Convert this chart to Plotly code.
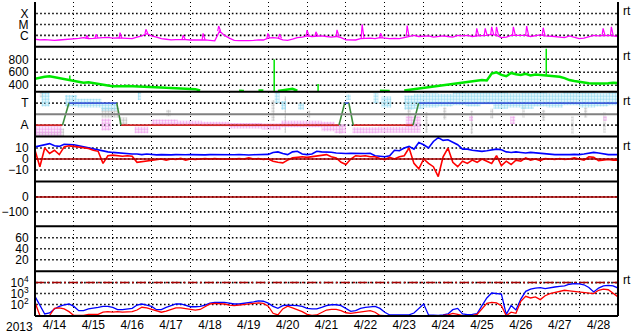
import plotly.graph_objects as go
from plotly.subplots import make_subplots
from datetime import datetime, timedelta

# ---------------- data ----------------
start = datetime(2013, 4, 14)
end = datetime(2013, 4, 29)
step_hours = 3
day_labels = ["4/14", "4/15", "4/16", "4/17", "4/18", "4/19", "4/20", "4/21",
              "4/22", "4/23", "4/24", "4/25", "4/26", "4/27", "4/28"]

# GOES X-ray flux, log10(W/m^2), 3-hourly background
xray_base = [
    -6.35, -6.40, -6.38, -6.42, -6.45, -6.42, -6.40, -6.38, -6.35, -6.28,
    -6.20, -6.30, -6.28, -6.22, -6.20, -6.18, -6.25, -6.22, -6.25, -6.28,
    -6.30, -6.15, -6.05, -5.85, -6.05, -6.15, -6.30, -6.35, -6.40, -6.38,
    -6.35, -6.38, -6.42, -6.45, -6.42, -6.40, -6.48, -6.50, -5.60, -6.00,
    -6.25, -6.45, -6.48, -6.50, -6.48, -6.45, -6.40, -6.42, -6.25, -6.20,
    -6.25, -6.40, -6.45, -6.35, -6.20, -6.15, -6.05, -6.10, -6.05, -6.05,
    -6.10, -6.15, -6.10, -6.20, -6.40, -6.38, -6.42, -6.30, -6.25, -6.25,
    -6.30, -6.20, -6.25, -6.30, -6.28, -6.30, -6.20, -6.10, -6.00, -6.10,
    -6.05, -6.05, -6.15, -6.10, -6.05, -6.10, -6.15, -6.00, -6.05, -6.00,
    -6.10, -6.05, -6.05, -6.00, -5.90, -6.00, -6.20, -6.15, -6.00, -6.00,
    -6.05, -6.00, -6.10, -6.00, -5.95, -6.05, -6.05, -6.10, -6.15, -6.20,
    -6.05, -6.15, -6.30, -6.25, -6.10, -6.00, -6.05, -6.00, -6.00, -6.05, -6.10]
# short flare spikes: hour since start, peak log10 flux
xray_spike_h = [32, 37.7, 52.5, 68.5, 91.5, 103.8, 113.4, 143.8, 151, 168, 173.5,
                186.5, 202, 213.4, 229.8, 272.8, 278, 282, 285, 295.4, 303.6,
                313.8, 350.8, 355.9]
xray_spike_peak = [-6.0, -5.9, -5.75, -5.45, -5.97, -5.82, -5.15, -5.82, -5.88, -5.52, -5.67,
                   -5.5, -5.0, -5.8, -5.1, -5.36, -5.36, -5.22, -5.22, -5.22, -5.15,
                   -5.3, -5.36, -5.22]

# solar wind speed km/s (None = no data / off scale)
speed = [
    500, 520, 530, 540, 525, 510, 500, 480, 470, 455,
    440, 445, 430, 425, 410, 395, 385, 380, 385, 390,
    385, 380, 378, 375, 370, 365, 362, 360, 358, 355,
    350, 348, 345, 340, 320, None, 330, None, None, None,
    None, None, 315, 312, None, None, 320, 318, None, None,
    310, 325, 335, 345, 315, None, 312, None, 320, None,
    None, 315, None, None, 330, None, None, None, None, None,
    None, 315, 318, 312, None, None, 320, 330, 340, 345,
    355, 360, 370, 380, 390, 400, 420, 430, 440, 445,
    460, 470, 480, 475, 580, 600, 560, 540, 590, 570,
    560, 575, 550, 565, 560, 550, 545, 540, 530, 510,
    480, 465, 450, 440, 430, 425, 420, 425, 430, 440, 435]
speed_spike_h = [21.5, 147.7, 174.8, 315.7]
speed_spike_lo = [470, 310, 310, 550]
speed_spike_hi = [549, 797, 420, 964]

# IMF sector: +1 toward (T), -1 away (A)
sector_h = [0, 17, 20.9, 50.5, 53.1, 187.7, 191.2, 193.8, 196.5, 233.4, 236.9, 360]
sector_pol = [-1, -1, 1, 1, -1, -1, 1, 1, -1, -1, 1, 1]

# angle scatter clouds (hour from, hour to, low, high) on T/A scale
cyan_h0 = [4, 18.5, 26, 41, 63.5, 148, 152, 162.5, 192, 209, 214,
           228, 234, 240, 249, 258, 266, 275, 283, 292, 300, 308, 316, 326, 336, 346, 354]
cyan_h1 = [9, 26, 41, 50.5, 65.5, 151, 155, 166, 195, 212, 220,
           234, 240, 249, 258, 266, 275, 283, 292, 300, 308, 316, 326, 336, 346, 354, 360]
cyan_lo = [0.7, 0.7, 0.6, 0.3, 1.3, 1.0, 0.4, 0.4, 1.3, 1.0, 0.6,
           0.4, 0.5, 0.6, 0.7, 0.8, 0.7, 0.9, 0.5, 0.6, 0.5, 0.7, 0.6, 0.8, 0.6, 0.7, 0.8]
cyan_hi = [2.0, 1.75, 1.4, 1.0, 2.05, 2.0, 1.2, 1.0, 1.8, 1.9, 1.6,
           1.7, 1.85, 1.9, 1.85, 2.0, 1.95, 2.0, 2.0, 1.9, 1.95, 2.0, 1.9, 2.0, 1.95, 1.9, 2.0]

pink_h0 = [0, 41, 61.5, 72, 88, 103, 120, 140, 152, 164, 177, 185, 196, 212, 229, 268, 293.5, 351]
pink_h1 = [16.5, 47, 70, 88, 103, 120, 140, 152, 164, 177, 185, 192, 212, 229, 238, 270.5, 296.5, 353]
pink_lo = [-1.95, -1.5, -1.75, -1.0, -1.05, -1.1, -1.3, -1.4, -1.2, -1.2, -1.55, -1.75, -1.75, -1.7, -1.7, -0.6, -0.9, -0.6]
pink_hi = [-1.1, -0.4, -1.15, -0.5, -0.6, -0.7, -0.8, -0.85, -0.6, -0.6, -0.7, -0.9, -1.2, -1.15, -0.2, -0.2, -0.2, -0.2]

gray_h0 = [0, 3, 15, 41, 52, 81, 146, 154, 168, 188, 230, 241, 252, 269, 281, 301, 313, 331, 339, 351]
gray_h1 = [15, 5, 18, 52, 57, 84, 148, 155, 170, 189.5, 232, 242.5, 254, 270.5, 283, 302.5, 315, 332.5, 341, 352.5]
gray_lo = [-2.05, 1.5, -2.05, -0.3, -1.0, -0.2, -0.6, -1.7, -0.3, -1.8, -0.5, -1.7, -0.5, -1.8, -0.4, -0.3, -0.6, -1.8, -0.3, -1.7]
gray_hi = [-1.6, 2.05, -1.3, 0.55, -0.3, 0.4, 1.3, 1.6, 0.3, -0.9, 0.7, 0.2, 0.6, 0.3, 0.5, 0.8, 0.4, -0.2, 0.6, 0.2]

# IMF |B| (Bt) and Bz, nT
bt = [
    11, 12, 13, 14, 12, 11.5, 13.5, 13.5, 13, 12,
    11, 10.5, 9.5, 8.5, 7.5, 6.5, 6, 5.5, 5, 5,
    4.5, 4.5, 4, 4.5, 4, 3.8, 4, 3.6, 3.8, 4,
    3.7, 3.9, 4, 3.8, 3.6, 3.8, 4, 3.9, 3.7, 4,
    3.8, 3.9, 4.1, 3.8, 3.7, 3.9, 4, 3.8, 4.2, 6,
    6.5, 5, 4, 6.5, 7, 4.5, 4, 4.5, 7, 6.5,
    6.5, 6.2, 5.5, 5.2, 5, 5.3, 5, 4.8, 5, 5.2,
    3, 2.5, 2, 3, 8, 7.5, 10, 11.5, 9, 15,
    13, 10, 16, 19.5, 17, 17.5, 15, 13, 9, 9,
    8, 7.5, 7, 7.5, 8, 9, 8.5, 6.5, 6, 6.5,
    6, 5.5, 6, 5.5, 5.5, 5, 4.5, 4, 4, 3.8,
    4, 4.2, 4, 4.5, 5, 6, 5.5, 4.5, 4, 4, 4]
bz = [
    8, -7, 10, 5, 8, 4, 11, 12, 11.5, 11,
    10, 9.5, 8, 7, -4, 3, 3.5, 3, 2.5, 3,
    2.5, -3, -2.5, -2, -1, -0.5, 0, -1, 0, -0.5,
    0.5, -1, 0, -0.5, 0, 0.5, 0, 0.5, 0, 0,
    -0.5, 0, 0.5, 0, 1, 0, 0.5, -0.5, 0, -2,
    -3, -3.5, -1, 1, 1.5, 2, 1.5, 2, 3, 3,
    4, 2, 1, -3, -5, 0, 3, 2.5, 3, 2,
    2, 0.5, -0.5, 1.5, 0, 2, 3, 10, -4, -9,
    0, -4, -7, -16, 2, 10, -3, -7, -2, -4,
    -1, -3, 0, -2, -4, 3, -6, -2, -5, -1,
    -2, 1, -1, 0, -1.5, 0.5, 0, -0.5, 0.5, -0.5,
    0, 1, 0, -1, 2, 1.5, -1.5, -1, -0.5, -1, -1]

dst_zero = 0

# particle flux, log10
p_blue = [
    2.74, 1.9, 1.14, 1.23, 1.6, 1.83, 1.98, 2.05, 1.83, 1.44,
    1.44, 1.6, 1.65, 1.74, 1.83, 1.83, 1.74, 1.53, 1.53, 1.6,
    1.65, 1.95, 2.05, 1.95, 1.83, 1.53, 1.53, 1.74, 1.9, 2.05,
    2.05, 1.9, 1.8, 1.8, 1.83, 1.95, 2.13, 2.2, 2.2, 2.2,
    2.13, 2.05, 2.05, 2.1, 2.2, 2.25, 2.33, 2.3, 2.13, 1.83,
    1.65, 1.9, 1.95, 1.95, 1.9, 1.83, 1.65, 1.6, 1.6, 1.74,
    1.9, 1.98, 1.98, 1.9, 1.65, 1.38, 1.44, 1.65, 1.74, 1.8,
    1.83, 1.65, 1.3, 1.05, 1.05, 1.08, 1.08, 1.05, 1.23, 1.6,
    2.05, 1.05, 1.0, 1.0, 1.05, 1.14, 1.53, 1.65, 1.14, 1.08,
    1.1, 1.17, 1.9, 2.6, 3.05, 3.0, 2.95, 1.1, 1.9, 1.5,
    2.5, 3.2, 3.4, 3.5, 3.55, 3.45, 3.55, 3.6, 3.65, 3.7,
    3.85, 3.9, 3.88, 3.8, 3.55, 3.15, 3.5, 3.7, 3.75, 3.7, 3.5]
p_red = [
    2.2, 1.0, 0.9, 1.0, 1.65, 1.7, 1.6, 1.35, 1.0, 0.98,
    1.0, 1.1, 1.1, 1.1, 1.3, 1.35, 1.3, 1.35, 1.3, 1.35,
    1.35, 1.5, 1.75, 1.7, 1.55, 1.4, 1.3, 1.4, 1.55, 1.7,
    1.7, 1.65, 1.55, 1.5, 1.55, 1.8, 2.05, 2.1, 2.1, 2.05,
    1.95, 1.9, 1.95, 2.0, 2.05, 2.1, 2.15, 2.1, 1.85, 1.2,
    1.05, 1.6, 1.85, 1.7, 1.55, 1.35, 1.1, 1.0, 1.05, 1.3,
    1.5, 1.55, 1.55, 1.45, 1.25, 1.2, 1.25, 1.35, 1.4, 1.45,
    1.3, 1.0, 0.98, 0.98, 0.98, 0.98, 0.98, 0.98, 0.98, 0.98,
    0.98, 0.98, 0.98, 0.98, 1.0, 1.05, 1.2, 1.1, 0.98, 0.98,
    0.98, 1.1, 1.6, 2.1, 2.2, 2.15, 1.9, 0.98, 1.3, 1.2,
    2.3, 2.75, 2.6, 2.7, 2.45, 2.8, 3.0, 3.1, 3.2, 3.3,
    3.25, 3.2, 3.1, 3.05, 3.05, 3.0, 3.3, 3.4, 3.35, 3.0, 2.7]
proton_threshold = 1e4

# ---------------- helpers ----------------
def T(h):
    return start + timedelta(hours=h)

def times(n):
    return [T(k * step_hours) for k in range(n)]

def boxes(h0, h1, lo, hi):
    xs, ys = [], []
    for a, b, l, u in zip(h0, h1, lo, hi):
        xs += [T(a), T(b), T(b), T(a), T(a), None]
        ys += [l, l, u, u, l, None]
    return xs, ys

fig = make_subplots(rows=7, cols=1, shared_xaxes=True, vertical_spacing=0)

MAG = "#ff00ff"
GRN = "#00e800"
BLU = "#0000ff"
RED = "#ff0000"
DRED = "#a80000"
DOT = "1px,3px"

ycfg = [
    dict(type="log", range=[-7.045, -2.955], tickvals=[1e-4, 1e-5, 1e-6], ticktext=["X", "M", "C"]),
    dict(type="linear", range=[300, 992.3], tickvals=[800, 600, 400]),
    dict(type="linear", range=[-2.045, 2.045], tickvals=[1, -1], ticktext=["T", "A"]),
    dict(type="linear", range=[-20.45, 20.45], tickvals=[10, 0, -10]),
    dict(type="linear", range=[-196.7, 103.3], tickvals=[0, -100]),
    dict(type="linear", range=[-0.9, 80.9], tickvals=[60, 40, 20]),
    dict(type="log", range=[0.955, 5.045], tickvals=[1e4, 1e3, 1e2],
         ticktext=["10<sup>4</sup>", "10<sup>3</sup>", "10<sup>2</sup>"]),
]

# dotted horizontal grid: small square dots, one every few pixels along each tick value
span_h = (end - start).total_seconds() / 3600.0
n_dots = 146
dot_times = [T((k + 0.5) * span_h / n_dots) for k in range(n_dots)]
for r, c in enumerate(ycfg, start=1):
    gx, gy = [], []
    for v in c["tickvals"]:
        gx += dot_times
        gy += [v] * n_dots
    fig.add_trace(go.Scatter(x=gx, y=gy, mode="markers", hoverinfo="skip",
                             marker=dict(symbol="square", size=1.6, color="black",
                                         line=dict(width=0))),
                  row=r, col=1)

# panel 1: X-ray
fig.add_trace(go.Scatter(x=times(len(xray_base)), y=[10 ** v for v in xray_base],
                         mode="lines", line=dict(color=MAG, width=1.3)), row=1, col=1)
sx, sy = [], []
for h, p in zip(xray_spike_h, xray_spike_peak):
    b = xray_base[min(len(xray_base) - 1, int(round(h / step_hours)))]
    sx += [T(h - 0.6), T(h), T(h + 1.2), None]
    sy += [10 ** b, 10 ** p, 10 ** b, None]
fig.add_trace(go.Scatter(x=sx, y=sy, mode="lines", line=dict(color=MAG, width=1.2)), row=1, col=1)

# panel 2: speed
fig.add_trace(go.Scatter(x=times(len(speed)), y=speed, mode="lines", connectgaps=False,
                         line=dict(color=GRN, width=2.5)), row=2, col=1)
kx, ky = [], []
for h, lo, hi in zip(speed_spike_h, speed_spike_lo, speed_spike_hi):
    kx += [T(h), T(h), None]
    ky += [lo, hi, None]
fig.add_trace(go.Scatter(x=kx, y=ky, mode="lines", line=dict(color=GRN, width=1.5)), row=2, col=1)

# panel 3: sector clouds + sector line
for (h0, h1, lo, hi, col) in [(gray_h0, gray_h1, gray_lo, gray_hi, "#c4c4c4"),
                              (pink_h0, pink_h1, pink_lo, pink_hi, "#f0a4ee"),
                              (cyan_h0, cyan_h1, cyan_lo, cyan_hi, "#98dcf2")]:
    bx, by = boxes(h0, h1, lo, hi)
    fig.add_trace(go.Scatter(x=bx, y=by, mode="lines", fill="toself",
                             fillcolor="rgba(0,0,0,0)",
                             fillpattern=dict(shape=".", fgcolor=col, size=3, solidity=0.55,
                                              fillmode="replace"),
                             line=dict(width=0, color=col)), row=3, col=1)
fig.add_hline(y=0, line=dict(color="#808080", width=2), row=3, col=1)
seg = {"#3c5ad8": ([], []), "#d02828": ([], []), "#3c8c3c": ([], [])}
for i in range(len(sector_h) - 1):
    a, b = sector_pol[i], sector_pol[i + 1]
    c = "#3c5ad8" if a == b == 1 else ("#d02828" if a == b == -1 else "#3c8c3c")
    seg[c][0].extend([T(sector_h[i]), T(sector_h[i + 1]), None])
    seg[c][1].extend([a, b, None])
for c, (xs, ys) in seg.items():
    fig.add_trace(go.Scatter(x=xs, y=ys, mode="lines", line=dict(color=c, width=1.6)), row=3, col=1)

# panel 4: IMF
fig.add_hline(y=0, line=dict(color=DRED, width=1.5), row=4, col=1)
fig.add_trace(go.Scatter(x=times(len(bt)), y=bt, mode="lines", line=dict(color=BLU, width=1.6)), row=4, col=1)
fig.add_trace(go.Scatter(x=times(len(bz)), y=bz, mode="lines", line=dict(color=RED, width=1.6)), row=4, col=1)

# panel 5: zero line
fig.add_hline(y=dst_zero, line=dict(color=DRED, width=1.5), row=5, col=1)

# panel 7: particles
fig.add_trace(go.Scatter(x=[start, end], y=[proton_threshold, proton_threshold], mode="lines",
                         line=dict(color=DRED, width=1.5, dash="9px,3px,2px,3px")), row=7, col=1)
fig.add_trace(go.Scatter(x=times(len(p_blue)), y=[10 ** v for v in p_blue], mode="lines",
                         line=dict(color=BLU, width=1.3)), row=7, col=1)
fig.add_trace(go.Scatter(x=times(len(p_red)), y=[10 ** v for v in p_red], mode="lines",
                         line=dict(color=RED, width=1.3)), row=7, col=1)

# ---------------- axes ----------------
FONT = dict(family="Liberation Sans, Arial, sans-serif", size=12, color="black")
noon = [T(24 * i + 12) for i in range(len(day_labels))]
fig.update_xaxes(range=[start, end], showgrid=False, zeroline=False, showline=False,
                 tickmode="array", tickvals=noon, ticktext=day_labels, ticks="",
                 tickfont=FONT,
                 minor=dict(showgrid=True, tick0=start, dtick=86400000, gridcolor="black",
                            griddash=DOT, gridwidth=1, ticks=""))

for i, c in enumerate(ycfg, start=1):
    fig.update_yaxes(row=i, col=1, tickmode="array", showgrid=False, zeroline=False,
                     showline=False, ticks="outside", ticklen=3, tickcolor="rgba(0,0,0,0)",
                     tickfont=FONT, fixedrange=True, **c)

# frame and panel separators
for k in range(7):
    fig.add_shape(type="line", xref="paper", yref="paper", x0=0, x1=1, y0=k / 7, y1=k / 7,
                  line=dict(color="black", width=2), layer="above")
for xx in (0, 1):
    fig.add_shape(type="line", xref="paper", yref="paper", x0=xx, x1=xx, y0=0, y1=1,
                  line=dict(color="black", width=2), layer="above")

ann = []
for row in (1, 2, 3, 4, 7):
    top = 1 - (row - 1) / 7
    ann.append(dict(text="rt", xref="paper", yref="paper", x=1, y=top, xanchor="left",
                    yanchor="middle", xshift=3, yshift=-9, showarrow=False, font=FONT))
ann.append(dict(text="2013", xref="paper", yref="paper", x=0, y=0, xanchor="left",
                yanchor="top", xshift=-31, yshift=-2, showarrow=False, font=FONT))
fig.update_layout(annotations=ann)

fig.update_layout(width=633, height=334, margin=dict(l=33, r=15, t=2, b=17),
                  paper_bgcolor="white", plot_bgcolor="white", showlegend=False,
                  font=FONT)

fig.write_html("out.html")
